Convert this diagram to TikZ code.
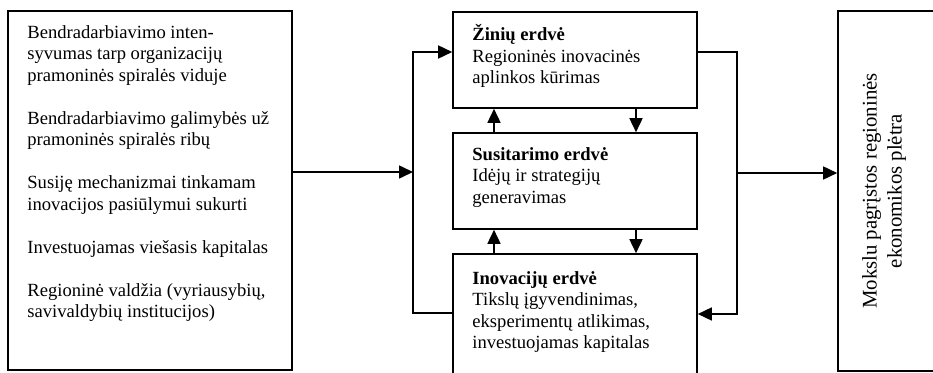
\documentclass[tikz,border=0pt]{standalone}
\usepackage{fontspec}
\setmainfont{Liberation Serif}
\usetikzlibrary{arrows.meta}
\begin{document}
\begin{tikzpicture}[x=1pt,y=-1pt,
  box/.style={draw,line width=1.6pt,minimum width=#1,inner sep=0pt},
  txt/.style={anchor=north west,align=left,inner sep=0pt,font=\fontsize{18.6}{21.5}\selectfont},
  link/.style={line width=1.6pt},
  arr/.style={link,-{Triangle[length=14pt,width=13pt]}}]
\useasboundingbox (0,0) rectangle (933,372);
\begin{scope}
\clip (0,0) rectangle (933,372);
% boxes
\node[box=284pt,minimum height=359pt] (src) at (150,190.5) {};
\node[box=244pt,minimum height=96pt] (know) at (575,60) {};
\node[box=244pt,minimum height=96pt] (agree) at (575,181) {};
\node[box=244pt,minimum height=122pt] (innov) at (575,315) {};
\node[box=100pt,minimum height=360pt] (goal) at (888,191) {};
\end{scope}
% texts
\node[txt] (t1) at ([xshift=20pt,yshift=-15pt]src.north west) {Bendradarbiavimo inten-\\syvumas tarp organizacijų\\pramoninės spiralės viduje\\[21.5pt]Bendradarbiavimo galimybės už\\pramoninės spiralės ribų\\[21.5pt]Susiję mechanizmai tinkamam\\inovacijos pasiūlymui sukurti\\[21.5pt]Investuojamas viešasis kapitalas\\[21.5pt]Regioninė valdžia (vyriausybių,\\savivaldybių institucijos)};
\node[txt] (t2) at ([xshift=20pt,yshift=-13pt]know.north west) {\textbf{Žinių erdvė}\\Regioninės inovacinės\\aplinkos kūrimas};
\node[txt] (t3) at ([xshift=20pt,yshift=-15pt]agree.north west) {\textbf{Susitarimo erdvė}\\Idėjų ir strategijų\\generavimas};
\node[txt] (t4) at ([xshift=20pt,yshift=-18pt]innov.north west) {\textbf{Inovacijų erdvė}\\Tikslų įgyvendinimas,\\eksperimentų atlikimas,\\investuojamas kapitalas};
\node[rotate=90,align=center,inner sep=0pt,font=\fontsize{20.8}{25}\selectfont] (t5) at (884,191) {Mokslu pagrįstos regioninės\\ekonomikos plėtra};
% junctions
\coordinate (sp) at (413,172);
\coordinate (spt) at (413,52);
\coordinate (spb) at (413,313);
\coordinate (rj) at (737,173);
\coordinate (rjt) at (737,52);
\coordinate (rjb) at (737,314);
\coordinate (ul) at (494,0);
\coordinate (dr) at (636,0);
% connectors
\draw[arr] (src.east |- sp) -- (sp);
\draw[arr] (spb -| innov.west) -- (spb) -- (spt) -- (spt -| know.west);
\draw[arr] (rjt -| know.east) -- (rjt) -- (rjb) -- (rjb -| innov.east);
\draw[arr] (rj) -- (rj -| goal.west);
\draw[arr] (ul |- agree.north) -- (ul |- know.south);
\draw[arr] (dr |- know.south) -- (dr |- agree.north);
\draw[arr] (ul |- innov.north) -- (ul |- agree.south);
\draw[arr] (dr |- agree.south) -- (dr |- innov.north);
\end{tikzpicture}
\end{document}
